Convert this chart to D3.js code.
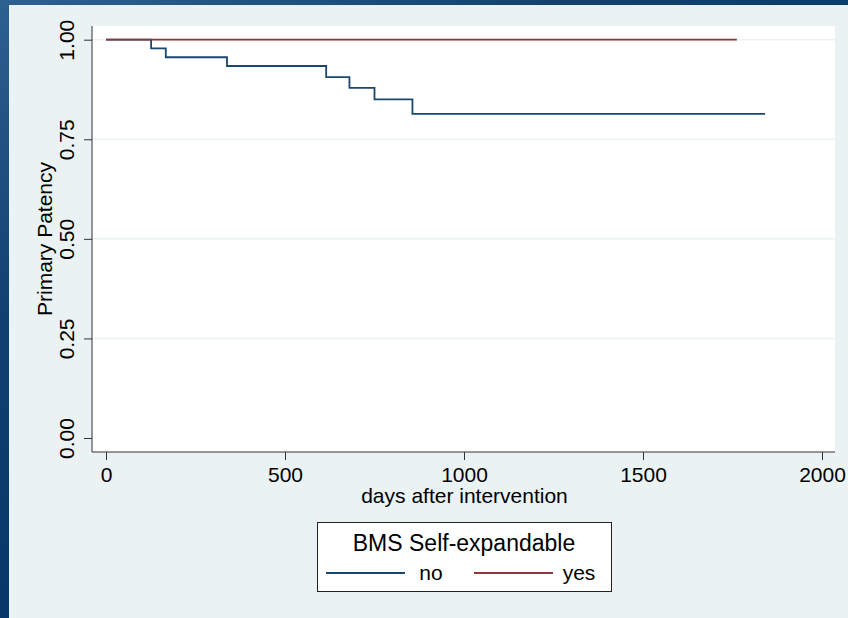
<!DOCTYPE html>
<html>
<head>
<meta charset="utf-8">
<script src="https://cdn.jsdelivr.net/npm/d3@7"></script>
<style>
  html, body { margin: 0; padding: 0; background: #003366; }
  svg { display: block; font-family: "Liberation Sans", Arial, Helvetica, sans-serif; }
</style>
</head>
<body>
<script>
// Kaplan-Meier data
var noDays = [0, 126, 167, 338, 615, 680, 750, 856, 1841];
var noSurv = [1, 0.978, 0.956, 0.934, 0.906, 0.879, 0.850, 0.814, 0.814];
var yesDays = [0, 1762];
var yesSurv = [1, 1];

var xTicks = [0, 500, 1000, 1500, 2000];
var yTicks = [0, 0.25, 0.5, 0.75, 1];
var seriesNames = ["no", "yes"];
var seriesColors = ["#1a476f", "#90353b"];

var W = 848, H = 618;

var svg = d3.select("body").append("svg")
    .attr("width", W)
    .attr("height", H);

// slide background + stata panel
var defs = svg.append("defs");
var grad = defs.append("linearGradient").attr("id", "bg")
    .attr("x1", 0).attr("y1", 0).attr("x2", 0.6).attr("y2", 0.8);
grad.append("stop").attr("offset", "0%").attr("stop-color", "#2d6191");
grad.append("stop").attr("offset", "40%").attr("stop-color", "#12416f");
grad.append("stop").attr("offset", "100%").attr("stop-color", "#003366");
svg.append("rect").attr("width", W).attr("height", H).attr("fill", "url(#bg)");
svg.append("rect").attr("x", 9).attr("y", 5).attr("width", W - 9).attr("height", H - 5)
    .attr("fill", "#eaf2f3");

// plot region
var plot = {left: 92, right: 835, top: 26, bottom: 452};

var x = d3.scaleLinear().domain([0, 2000]).range([106, 822]);
var y = d3.scaleLinear().domain([0, 1]).range([438, 39.7]);

svg.append("rect")
    .attr("x", plot.left).attr("y", plot.top)
    .attr("width", plot.right - plot.left).attr("height", plot.bottom - plot.top)
    .attr("fill", "#ffffff");

// gridlines
svg.append("g").selectAll("line")
    .data(yTicks.filter(function(d) { return d > 0; }))
    .enter().append("line")
        .attr("x1", plot.left).attr("x2", plot.right)
        .attr("y1", function(d) { return y(d); })
        .attr("y2", function(d) { return y(d); })
        .attr("stroke", "#eaf2f3")
        .attr("stroke-width", 1.5);

// lines
var line = d3.line()
    .x(function(d) { return x(d[0]); })
    .y(function(d) { return y(d[1]); })
    .curve(d3.curveStepAfter);

var series = [d3.zip(noDays, noSurv), d3.zip(yesDays, yesSurv)];

svg.append("g").selectAll("path")
    .data(series)
    .enter().append("path")
        .attr("d", line)
        .attr("fill", "none")
        .attr("stroke", function(d, i) { return seriesColors[i]; })
        .attr("stroke-width", 1.8);

// y axis
var yAxis = svg.append("g")
    .attr("transform", "translate(" + plot.left + ",0)")
    .call(d3.axisLeft(y).tickValues(yTicks).tickSize(8).tickSizeOuter(0).tickFormat(d3.format(".2f")));
yAxis.select(".domain").attr("d", "M0," + plot.top + "V" + plot.bottom).attr("stroke", "#333");
yAxis.selectAll(".tick line").attr("stroke", "#333");
yAxis.selectAll(".tick text")
    .attr("font-size", 21)
    .attr("fill", "#000")
    .attr("x", 0).attr("dy", 0)
    .attr("transform", "translate(-18,0) rotate(-90)")
    .attr("text-anchor", "middle")
    .attr("y", 0);

// x axis
var xAxis = svg.append("g")
    .attr("transform", "translate(0," + plot.bottom + ")")
    .call(d3.axisBottom(x).tickValues(xTicks).tickSize(8).tickSizeOuter(0).tickFormat(d3.format("d")));
xAxis.select(".domain").attr("d", "M" + plot.left + ",0H" + plot.right).attr("stroke", "#333");
xAxis.selectAll(".tick line").attr("stroke", "#333");
xAxis.selectAll(".tick text")
    .attr("font-size", 21)
    .attr("fill", "#000")
    .attr("y", 29.7).attr("dy", 0);

// axis titles
svg.append("text")
    .attr("transform", "translate(51.7," + ((plot.top + plot.bottom) / 2) + ") rotate(-90)")
    .attr("text-anchor", "middle")
    .attr("font-size", 21)
    .text("Primary Patency");

svg.append("text")
    .attr("x", (plot.left + plot.right) / 2 + 1)
    .attr("y", 503)
    .attr("text-anchor", "middle")
    .attr("font-size", 21)
    .text("days after intervention");

// legend
var legend = svg.append("g");
legend.append("rect")
    .attr("x", 317.5).attr("y", 522.5)
    .attr("width", 294).attr("height", 69)
    .attr("fill", "#ffffff").attr("stroke", "#222").attr("stroke-width", 1);
legend.append("text")
    .attr("x", 464).attr("y", 551)
    .attr("text-anchor", "middle")
    .attr("font-size", 23)
    .text("BMS Self-expandable");

var legX = d3.scaleOrdinal().domain(seriesNames).range([326, 474]);
var items = legend.selectAll("g.item")
    .data(seriesNames)
    .enter().append("g").attr("class", "item");
items.append("line")
    .attr("x1", function(d) { return legX(d); })
    .attr("x2", function(d) { return legX(d) + 79; })
    .attr("y1", 573).attr("y2", 573)
    .attr("stroke", function(d, i) { return seriesColors[i]; })
    .attr("stroke-width", 1.8);
items.append("text")
    .attr("x", function(d) { return legX(d) + 105; })
    .attr("y", 580)
    .attr("text-anchor", "middle")
    .attr("font-size", 21)
    .text(function(d) { return d; });
</script>
</body>
</html>
